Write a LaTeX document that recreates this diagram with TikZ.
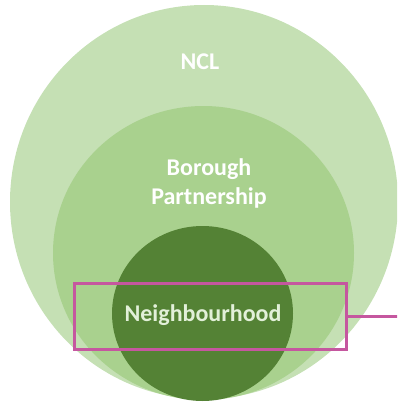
\documentclass[tikz,border=0pt]{standalone}
\usepackage{fontspec}
\setmainfont{Carlito}
\usetikzlibrary{shapes.geometric}
\definecolor{outerg}{HTML}{C5E0B4}
\definecolor{midg}{HTML}{A9D18E}
\definecolor{darkg}{HTML}{548235}
\definecolor{pinkc}{HTML}{C5579F}
\definecolor{ntext}{HTML}{E2F0D9}
\tikzset{
  lbl/.style={text=white, font=\fontsize{24}{29}\selectfont\bfseries, align=center, inner sep=0pt},
  hl/.style={draw=pinkc, line width=3pt},
}
\begin{document}
\begin{tikzpicture}[x=1pt,y=-1pt]
\useasboundingbox (0,0) rectangle (397,404);
\clip (0,0) rectangle (397,404);
\fill[outerg] (204,202) ellipse [x radius=194, y radius=197];
\fill[midg] (203.5,253) ellipse [x radius=150.5, y radius=147];
\fill[darkg] (202.5,313.5) ellipse [x radius=90.5, y radius=87.5];
\node[lbl] (ncl) at (200,62) {NCL};
\node[lbl, align=center] (bp) at (209,183) {Borough\\Partnership};
\node[lbl, text=ntext] (nb) at (203,315) {Neighbourhood};
\node[hl, minimum width=272pt, minimum height=66pt, inner sep=0pt] (box) at (210.5,316) {};
\coordinate (endp) at (399,316);
\draw[hl] (box.east) -- (endp);
\end{tikzpicture}
\end{document}
